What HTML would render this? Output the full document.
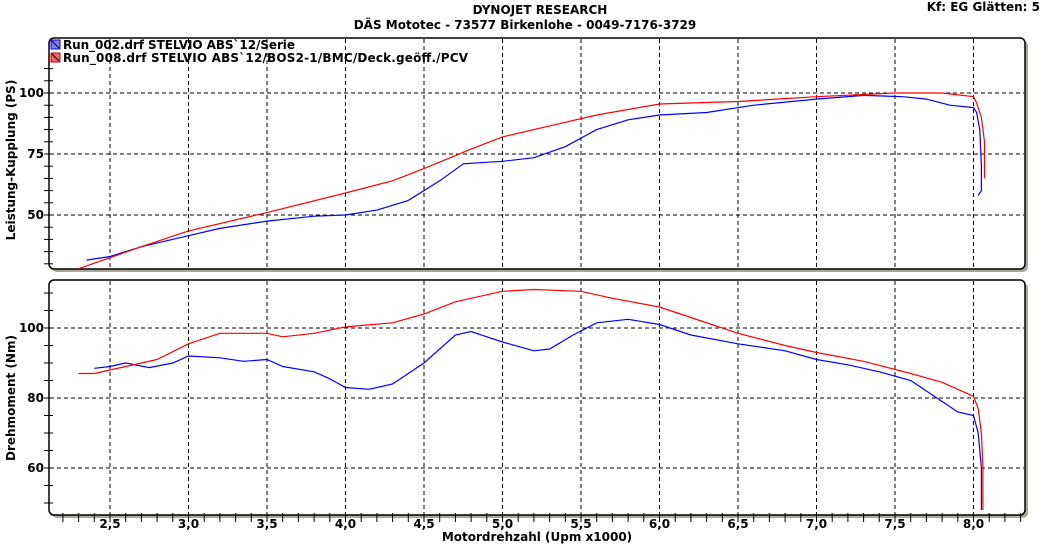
<!DOCTYPE html>
<html><head><meta charset="utf-8"><style>
body{margin:0;background:#fff;width:1050px;height:549px;overflow:hidden}
svg text{font-family:"DejaVu Sans","Liberation Sans",sans-serif;font-weight:bold;font-size:12px;fill:#000}
</style></head><body>
<svg id="s" width="1050" height="549" xmlns="http://www.w3.org/2000/svg">
<text x="540" y="14" text-anchor="middle">DYNOJET RESEARCH</text>
<text x="525" y="29" text-anchor="middle">DÄS Mototec - 73577 Birkenlohe  - 0049-7176-3729</text>
<text x="1040" y="11" text-anchor="end">Kf: EG  Glätten: 5</text>
<text transform="translate(15,160) rotate(-90)" text-anchor="middle">Leistung-Kupplung (PS)</text>
<text transform="translate(15,398) rotate(-90)" text-anchor="middle">Drehmoment (Nm)</text>
<text x="537" y="541" text-anchor="middle">Motordrehzahl (Upm x1000)</text>
<g id="g"></g>
</svg>
<script>
var g=document.getElementById('g'),h='';
function X(r){return 110+(r-2.5)*157}
function YP(p){return 93+(100-p)*2.44}
function YT(t){return 328+(100-t)*3.5}
h+='<rect x="52" y="41" width="976" height="231" fill="#aaa89a" rx="5"/>';
h+='<rect x="49" y="38" width="976" height="231" fill="#fff" stroke="#000" stroke-width="1.5" rx="5"/>';
h+='<rect x="52" y="283" width="976" height="235" fill="#aaa89a" rx="5"/>';
h+='<rect x="49" y="280" width="976" height="235" fill="#fff" stroke="#000" stroke-width="1.5" rx="5"/>';
for(var r=2.5;r<=8.01;r+=0.5){var x=X(r);
h+='<line x1="'+x+'" y1="39" x2="'+x+'" y2="268" stroke="#000" stroke-dasharray="4,3"/>';
h+='<line x1="'+x+'" y1="281" x2="'+x+'" y2="514" stroke="#000" stroke-dasharray="4,3"/>';
h+='<text x="'+x+'" y="528" text-anchor="middle">'+r.toFixed(1).replace('.',',')+'</text>';}
[100,75,50].forEach(function(p){var y=YP(p);h+='<line x1="50" y1="'+y+'" x2="1024" y2="'+y+'" stroke="#000" stroke-dasharray="4,3"/><text x="44" y="'+(y+4)+'" text-anchor="end">'+p+'</text>';});
[100,80,60].forEach(function(p){var y=YT(p);h+='<line x1="50" y1="'+y+'" x2="1024" y2="'+y+'" stroke="#000" stroke-dasharray="4,3"/><text x="44" y="'+(y+4)+'" text-anchor="end">'+p+'</text>';});
for(var p=30;p<=110;p+=5){var y=YP(p);if(y>40&&y<268)h+='<line x1="44" y1="'+y+'" x2="53" y2="'+y+'" stroke="#000"/>';}
for(var p=50;p<=115;p+=5){var y=YT(p);if(y>282&&y<514)h+='<line x1="44" y1="'+y+'" x2="53" y2="'+y+'" stroke="#000"/>';}
for(var r=2.2;r<=8.41;r+=0.1){var x=X(r);if(x>52&&x<1024)h+='<line x1="'+x+'" y1="513" x2="'+x+'" y2="522" stroke="#000"/>';}
function pl(d,f,c){return '<polyline fill="none" stroke="'+c+'" stroke-width="1.2" points="'+d.map(function(a){return X(a[0]).toFixed(1)+','+f(a[1]).toFixed(1)}).join(' ')+'"/>';}
var bp=[[2.35,31.5],[2.5,33],[2.7,37],[3.0,41.5],[3.2,44.5],[3.5,47.5],[3.8,49.5],[4.0,50],[4.2,52],[4.4,56],[4.6,64],[4.75,71],[5.0,72],[5.2,73.5],[5.4,78],[5.6,85],[5.8,89],[6.0,91],[6.3,92],[6.6,95],[7.0,97.5],[7.3,99],[7.55,98.5],[7.7,97.5],[7.85,95],[8.0,94],[8.02,92],[8.04,85],[8.05,70],[8.05,60],[8.03,58]];
var rp=[[2.3,28],[2.5,32.5],[2.7,37],[3.0,43.5],[3.5,51],[4.0,59],[4.3,64],[4.5,69],[4.8,77],[5.0,82],[5.3,86.5],[5.6,91],[6.0,95.5],[6.5,96.5],[7.0,98.5],[7.5,100],[7.8,100],[8.0,98.5],[8.02,96],[8.05,90],[8.07,80],[8.07,65]];
var bt=[[2.4,88.5],[2.5,89],[2.6,90],[2.75,88.7],[2.9,90],[3.0,92],[3.2,91.5],[3.35,90.5],[3.5,91],[3.6,89],[3.8,87.5],[3.9,85.5],[4.0,83],[4.15,82.5],[4.3,84],[4.5,90],[4.7,98],[4.8,99],[4.9,97.5],[5.0,96],[5.2,93.5],[5.3,94],[5.45,98],[5.6,101.5],[5.8,102.5],[6.0,101],[6.2,98],[6.5,95.5],[6.8,93.5],[7.0,91],[7.2,89.5],[7.4,87.5],[7.6,85],[7.8,79],[7.9,76],[8.0,75],[8.03,70],[8.05,60],[8.05,48]];
var rt=[[2.3,87],[2.4,87],[2.6,89],[2.8,91],[3.0,95.5],[3.2,98.5],[3.5,98.5],[3.6,97.5],[3.8,98.5],[4.0,100.3],[4.3,101.5],[4.5,104],[4.7,107.5],[5.0,110.5],[5.2,111],[5.5,110.5],[5.7,108.5],[6.0,106],[6.2,103],[6.5,98.5],[6.8,95],[7.0,93],[7.3,90.5],[7.6,87],[7.8,84.5],[8.0,80.5],[8.03,77],[8.05,70],[8.06,60],[8.06,48]];
h+=pl(bp,YP,'#0000ff')+pl(rp,YP,'#ff0000')+pl(bt,YT,'#0000ff')+pl(rt,YT,'#ff0000');
h+='<rect x="51" y="40" width="9" height="9" fill="#8080ff" stroke="#0000c0"/><line x1="52" y1="41" x2="59" y2="48" stroke="#000"/>';
h+='<rect x="51" y="53" width="9" height="9" fill="#ff6060" stroke="#c00000"/><line x1="52" y1="54" x2="59" y2="61" stroke="#000"/>';
h+='<text x="63" y="49" textLength="232">Run_002.drf STELVIO ABS`12/Serie</text>';
h+='<text x="63" y="62" textLength="405">Run_008.drf STELVIO ABS`12/BOS2-1/BMC/Deck.geöff./PCV</text>';
g.innerHTML=h;
</script>
</body></html>
